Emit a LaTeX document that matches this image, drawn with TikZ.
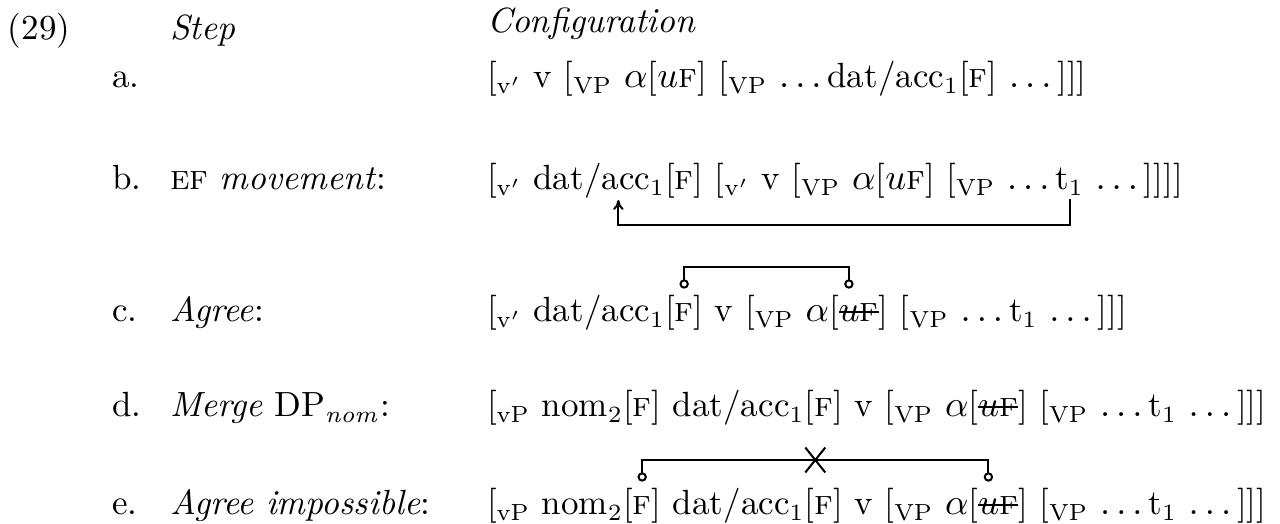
\documentclass[tikz,border=0pt]{standalone}
\usepackage{amsmath}
\usepackage{tikz}
\usetikzlibrary{arrows.meta,positioning,shapes.misc}

\newcommand{\feat}{\textsc{f}}
\newcommand{\gone}[1]{\setbox0\hbox{#1}\rlap{\rule[2.7pt]{\wd0}{0.6pt}}\box0}

\begin{document}
\fontsize{10.5}{12.6}\selectfont
\begin{tikzpicture}[
  x=0.3pt,y=0.3pt,
  every node/.style={inner sep=0pt,outer sep=0pt,anchor=base west},
  move/.style={semithick,-{To[length=3pt,width=3.2pt]}},
  agree/.style={semithick,{Circle[open,length=2.8pt]}-{Circle[open,length=2.8pt]}},
  blocked/.style={cross out,draw,semithick,anchor=center,minimum width=6pt,minimum height=7.5pt}
]
\useasboundingbox (0,0) rectangle (1280,-524);

% header
\node (ex) at (8,-40) {(29)};
\node (stephd) at (170,-40) {\textit{Step}};
\node (confhd) at (487,-33) {\textit{Configuration}};

% a.
\node (a) at (112,-88) {a.};
\node (acfg) at (487,-88) {[$_{\mathrm{v}'}$ v [$_{\mathrm{VP}}$ $\alpha$[$u$\feat] [$_{\mathrm{VP}}$ $\ldots$\,dat/acc$_1$[\feat] $\ldots$\,]]]};

% b.
\node (b) at (112,-190) {b.};
\node (bstep) at (170,-190) {\textsc{ef} \textit{movement}:};
\node (b0) at (487,-190) {[$_{\mathrm{v}'}$};
\node[base right=3.5pt of b0] (bdat) {dat/acc$_1$[\feat]};
\node[base right=3.5pt of bdat] (b1) {[$_{\mathrm{v}'}$ v [$_{\mathrm{VP}}$ $\alpha$[$u$\feat] [$_{\mathrm{VP}}$ $\ldots$};
\node[base right=1.7pt of b1] (bt) {t$_1$};
\node[base right=3.5pt of bt] (b2) {$\ldots$\,]]]]};
\draw[move] ([yshift=-2.7pt]bt.base) -- ++(0,-7.8pt) -| ([yshift=-3pt]bdat.base);

% c.
\node (c) at (112,-322) {c.};
\node (cstep) at (170,-322) {\textit{Agree}:};
\node (c0) at (487,-322) {[$_{\mathrm{v}'}$ dat/acc$_1$};
\node[base right=0pt of c0] (cF) {[\feat]};
\node[base right=3.5pt of cF] (c1) {v [$_{\mathrm{VP}}$ $\alpha$[};
\node[base right=0pt of c1] (cu) {\gone{$u$\feat}};
\node[base right=0pt of cu] (c2) {] [$_{\mathrm{VP}}$ $\ldots$\,t$_1$ $\ldots$\,]]]};
\draw[agree] ([yshift=10pt]cF.base) -- ++(0,6.5pt) -| ([xshift=3pt,yshift=10pt]cu.base west);

% d.
\node (d) at (112,-417) {d.};
\node (dstep) at (170,-417) {\textit{Merge} DP$_{\mathit{nom}}$:};
\node (dcfg) at (487,-417) {[$_{\mathrm{vP}}$ nom$_2$[\feat] dat/acc$_1$[\feat] v [$_{\mathrm{VP}}$ $\alpha$[\gone{$u$\feat}] [$_{\mathrm{VP}}$ $\ldots$\,t$_1$ $\ldots$\,]]]};

% e.
\node (e) at (112,-515) {e.};
\node (estep) at (170,-515) {\textit{Agree impossible}:};
\node (e0) at (487,-515) {[$_{\mathrm{vP}}$ nom$_2$};
\node[base right=0pt of e0] (eF) {[\feat]};
\node[base right=3.5pt of eF] (e1) {dat/acc$_1$[\feat] v [$_{\mathrm{VP}}$ $\alpha$[};
\node[base right=0pt of e1] (eu) {\gone{$u$\feat}};
\node[base right=0pt of eu] (e2) {] [$_{\mathrm{VP}}$ $\ldots$\,t$_1$ $\ldots$\,]]]};
\coordinate (eFdot) at ([yshift=10pt]eF.base);
\coordinate (eudot) at ([xshift=3pt,yshift=10pt]eu.base west);
\draw[agree] (eFdot) -- ++(0,6.5pt) -| node[pos=0.25,blocked] (nox) {} (eudot);
\end{tikzpicture}
\end{document}
